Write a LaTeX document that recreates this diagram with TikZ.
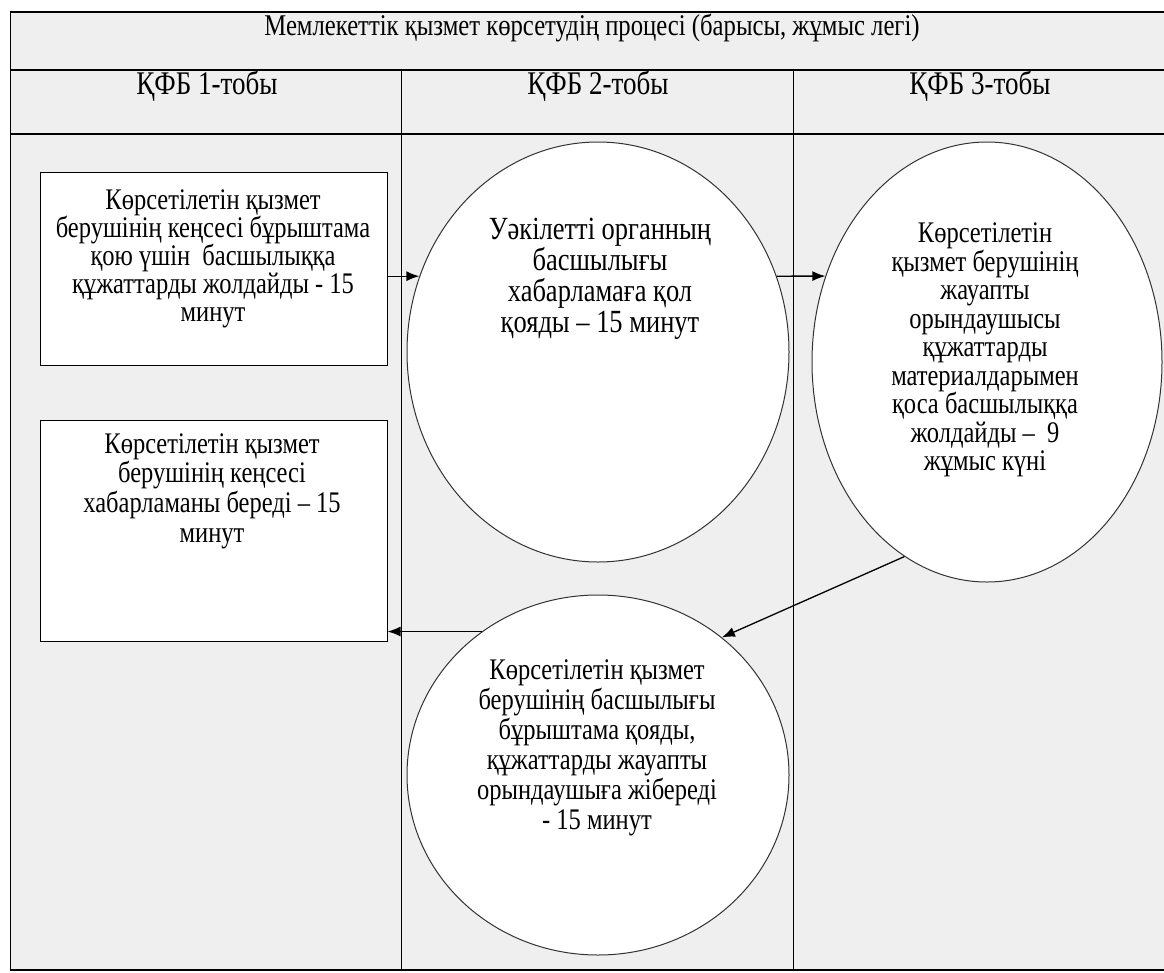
\documentclass[tikz,border=0pt]{standalone}
\usepackage{fontspec}
\setmainfont{Liberation Serif}[FakeStretch=0.82]
\usetikzlibrary{shapes.geometric,arrows.meta}
\lineskiplimit=-100pt
\definecolor{lanebg}{HTML}{EFEFEF}
\tikzset{
  stagebox/.style={draw, fill=white, line width=1pt, inner sep=0pt},
  oval/.style={ellipse, draw=black!80, fill=white, line width=1pt, inner sep=0pt},
  txt/.style={align=center, inner sep=0pt, font=\fontsize{29.9}{29}\selectfont},
  flow/.style={-{Latex[length=13pt,width=10pt]}, line width=1.3pt},
}
\begin{document}
\begin{tikzpicture}[x=1pt,y=-1pt]
\useasboundingbox (0,0) rectangle (1164,972);
\fill[lanebg] (10,12) rectangle (1164,970);
\draw[line width=1.4pt] (10,12)--(1164,12) (10,70)--(1164,70) (10,134)--(1164,134) (10,970)--(1164,970);
\draw[line width=1pt] (10,12)--(10,970);
\foreach \x in {401,793}
    \draw[line width=1pt] (\x,70)--(\x,970);
\node[txt, font=\fontsize{30.1}{30}\selectfont] (title) at (592,28) {Мемлекеттік қызмет көрсетудің процесі (барысы, жұмыс легі)};
\foreach \x/\n in {207/1,598/2,980/3}
    \node[txt, font=\fontsize{33}{33}\selectfont] (h\n) at (\x,86) {ҚФБ \n-тобы};
\node[stagebox, minimum width=347pt, minimum height=193pt] (b1) at (213.5,268.5) {};
\node[stagebox, minimum width=347pt, minimum height=221pt] (b2) at (213.5,530.5) {};
\node[oval, minimum width=382pt, minimum height=420pt] (e1) at (598,352) {};
\node[oval, minimum width=350pt, minimum height=440pt] (e2) at (987,362) {};
\node[oval, minimum width=382pt, minimum height=360pt] (e3) at (598,775) {};
\node[txt, font=\fontsize{29.9}{28}\selectfont] (b1t) at (213,259) {Көрсетілетін қызмет\\ берушінің кеңсесі бұрыштама\\ қою үшін~~басшылыққа\\ құжаттарды жолдайды - 15\\ минут};
\node[txt, font=\fontsize{29.9}{29.7}\selectfont] (b2t) at (212,491) {Көрсетілетін қызмет\\ берушінің кеңсесі\\ хабарламаны береді – 15\\ минут};
\node[txt, font=\fontsize{32.3}{31}\selectfont] (e1t) at (600,279) {Уәкілетті органның\\ басшылығы\\ хабарламаға қол\\ қояды – 15 минут};
\node[txt, font=\fontsize{29.9}{28.5}\selectfont] (e2t) at (985,350) {Көрсетілетін\\ қызмет берушінің\\ жауапты\\ орындаушысы\\ құжаттарды\\ материалдарымен\\ қоса басшылыққа\\ жолдайды –~~9\\ жұмыс күні};
\node[txt, font=\fontsize{29.9}{30}\selectfont] (e3t) at (597,748) {Көрсетілетін қызмет\\ берушінің басшылығы\\ бұрыштама қояды,\\ құжаттарды жауапты\\ орындаушыға жібереді\\ - 15 минут};
\draw[flow] (b1.east |- e1.157) -- (e1.157);
\draw[flow] (e1.23) -- (e2.152);
\draw[flow] (e2.247) -- (e3.48);
\draw[flow] (e3.129) -- (e3.129 -| b2.east);
\end{tikzpicture}
\end{document}
